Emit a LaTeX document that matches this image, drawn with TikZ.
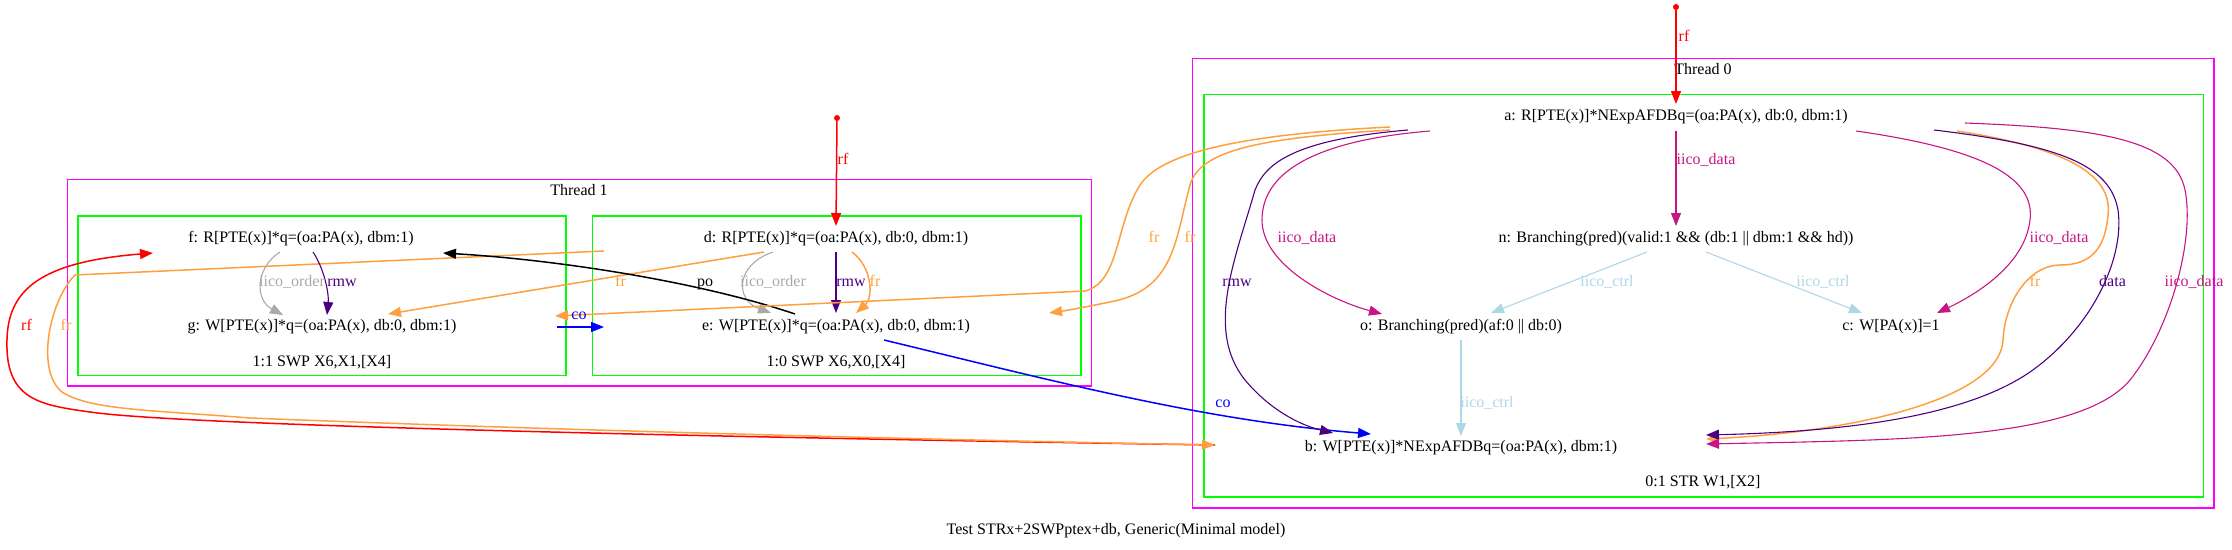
\documentclass[tikz,border=0pt]{standalone}
\usepackage{fontspec}
\setmainfont{Liberation Serif}
\usetikzlibrary{arrows.meta,calc}
\definecolor{cfr}{RGB}{255,160,64}
\definecolor{crmw}{RGB}{75,0,130}
\definecolor{cidata}{RGB}{199,21,133}
\definecolor{cictrl}{RGB}{173,216,230}
\definecolor{corder}{RGB}{169,169,169}
\definecolor{cmag}{RGB}{255,0,255}
\definecolor{cgreen}{RGB}{0,255,0}
\tikzset{
  lbl/.style={font=\fontsize{16}{19}\selectfont, inner sep=0pt, text height=11pt, text depth=4pt},
  ev/.style={lbl, minimum height=27pt, anchor=center},
  clus/.style={draw, line width=1.3pt},
  ea/.style={line width=1.5pt, -{Triangle[length=13pt,width=10pt]}},
  eb/.style={line width=1.1pt, -{Triangle[length=13pt,width=10pt]}},
  initdot/.style={circle, fill=red, inner sep=0pt, minimum size=6pt}
}
\begin{document}
\begin{tikzpicture}[x=1pt,y=-1pt]
\useasboundingbox (0,0) rectangle (2232,549);
% clusters
\draw[clus,cmag] (67.5,179.5) rectangle (1091.5,386);
\draw[clus,cgreen] (78,216) rectangle (566,375.5);
\draw[clus,cgreen] (592.5,216) rectangle (1081,375.5);
\draw[clus,cmag] (1192.5,58.3) rectangle (2214,508);
\draw[clus,cgreen] (1204,94.3) rectangle (2203.5,497);
\node[lbl] (t1) at (579,192) {Thread 1};
\node[lbl] (t0) at (1703,71) {Thread 0};
\node[lbl] (s11) at (322,363) {1:1 SWP X6,X1,[X4]};
\node[lbl] (s10) at (836,363) {1:0 SWP X6,X0,[X4]};
\node[lbl] (s01) at (1703,483) {0:1 STR W1,[X2]};
\node[lbl] (cap) at (1116,531) {Test STRx+2SWPptex+db, Generic(Minimal model)};
% events
\node[ev] (a) at (1676,117) {a: R[PTE(x)]*NExpAFDBq=(oa:PA(x), db:0, dbm:1)};
\node[ev] (n) at (1676,239) {n: Branching(pred)(valid:1 \&\& (db:1 || dbm:1 \&\& hd))};
\node[ev] (o) at (1461,327) {o: Branching(pred)(af:0 || db:0)};
\node[ev] (c) at (1891,327) {c: W[PA(x)]=1};
\node[ev] (b) at (1461,448) {b: W[PTE(x)]*NExpAFDBq=(oa:PA(x), dbm:1)};
\node[ev] (d) at (836,239) {d: R[PTE(x)]*q=(oa:PA(x), db:0, dbm:1)};
\node[ev] (e) at (836,327) {e: W[PTE(x)]*q=(oa:PA(x), db:0, dbm:1)};
\node[ev] (f) at (301,239) {f: R[PTE(x)]*q=(oa:PA(x), dbm:1)};
\node[ev] (g) at (322,327) {g: W[PTE(x)]*q=(oa:PA(x), db:0, dbm:1)};
\node[initdot] (ia) at (1676,7) {};
\node[initdot] (id) at (837,118) {};
% rf
\draw[ea,red] (ia) -- ($(a)+(0,-13)$);
\draw[ea,red] (id) -- ($(d)+(0,-13)$);
\draw[ea,red] ($(b)+(-246,-3)$) .. controls (900,440) and (200,428) .. (90,412) .. controls (40,405) and (5,400) .. (7,340) .. controls (8,290) and (40,262) .. ($(f)+(-148,14)$);
% fr d->b
\draw[ea,cfr] ($(d)+(-232,12)$) -- (75,275) .. controls (50,300) and (35,370) .. (62,392) .. controls (90,410) and (150,410) .. (250,418) .. controls (600,432) and (1000,441) .. ($(b)+(-246,-3)$);
% thread 1 internal
\draw[eb,corder] ($(f)+(-21,13)$) .. controls (255,268) and (255,300) .. ($(g)+(-39,-12)$);
\draw[eb,crmw] ($(f)+(12,13)$) .. controls (325,270) and (329,295) .. ($(g)+(5,-12)$);
\draw[eb,corder] ($(d)+(-63,13)$) .. controls (735,265) and (735,300) .. ($(e)+(-65,-14)$);
\draw[eb,crmw] ($(d)+(0,13)$) -- ($(e)+(0,-14)$);
\draw[ea,cfr] ($(d)+(16,13)$) .. controls (873,268) and (873,298) .. ($(e)+(20,-14)$);
\draw[ea,cfr] ($(d)+(-72,13)$) -- ($(g)+(66,-13)$);
\draw[ea,black] ($(e)+(-41,-13)$) .. controls (700,282) and (560,260) .. ($(f)+(142,14)$);
\draw[ea,blue] ($(g)+(235,0)$) -- ($(e)+(-232,0)$);
\draw[ea,blue] ($(e)+(48,13)$) .. controls (1050,380) and (1200,420) .. ($(b)+(-90,-14)$);
% thread 0
\draw[eb,crmw] ($(a)+(-268,13)$) .. controls (1290,140) and (1265,165) .. (1255,190) .. controls (1235,260) and (1205,330) .. (1245,380) .. controls (1270,410) and (1300,425) .. ($(b)+(-128,-15)$);
\draw[eb,cidata] ($(a)+(-246,14)$) .. controls (1320,140) and (1262,170) .. (1262,220) .. controls (1262,265) and (1330,300) .. ($(o)+(-79,-13)$);
\draw[eb,cidata] ($(a)+(0,14)$) -- ($(n)+(0,-13)$);
\draw[eb,cictrl] ($(n)+(-29,13)$) -- ($(o)+(30,-14)$);
\draw[eb,cictrl] ($(n)+(30,13)$) -- ($(c)+(-29,-14)$);
\draw[eb,cictrl] ($(o)+(0,13)$) -- ($(b)+(0,-12)$);
\draw[eb,cidata] ($(a)+(180,14)$) .. controls (1990,150) and (2035,180) .. (2030,220) .. controls (2025,265) and (1975,295) .. ($(c)+(46,-14)$);
\draw[ea,cfr] ($(a)+(281,14)$) .. controls (2080,150) and (2112,180) .. (2108,215) .. controls (2105,250) and (2090,265) .. (2060,265) .. controls (2030,265) and (2005,300) .. (2003,340) .. controls (2000,400) and (1850,432) .. ($(b)+(245,-9)$);
\draw[eb,crmw] ($(a)+(258,13)$) .. controls (2060,145) and (2110,165) .. (2118,210) .. controls (2125,260) and (2090,330) .. (2030,372) .. controls (1960,420) and (1830,432) .. ($(b)+(245,-13)$);
\draw[eb,cidata] ($(a)+(289,6)$) .. controls (2100,128) and (2175,140) .. (2185,190) .. controls (2195,240) and (2170,330) .. (2130,380) .. controls (2080,440) and (1900,440) .. ($(b)+(245,-4)$);
\draw[ea,cfr] ($(a)+(-286,13)$) .. controls (1260,138) and (1200,150) .. (1190,185) .. controls (1175,240) and (1175,290) .. (1110,302) .. controls (1090,306) and (1070,310) .. ($(e)+(213,-14)$);
\draw[ea,cfr] ($(a)+(-286,10)$) .. controls (1230,135) and (1160,155) .. (1140,185) .. controls (1115,225) and (1120,282) .. (1085,291) -- ($(g)+(233,-11)$);
% labels
\node[lbl,red] (l1) at (1684,38) {rf};
\node[lbl,red] (l2) at (843,161) {rf};
\node[lbl,red] (l3) at (26.5,327) {rf};
\node[lbl,cfr] (l4) at (66,327) {fr};
\node[lbl,corder] (l5) at (292,283) {iico\_order};
\node[lbl,crmw] (l6) at (342,283) {rmw};
\node[lbl,corder] (l7) at (773,283) {iico\_order};
\node[lbl,crmw] (l8) at (851,283) {rmw};
\node[lbl,cfr] (l9) at (875,283) {fr};
\node[lbl,cfr] (l10) at (620.5,283) {fr};
\node[lbl,black] (l11) at (705,283) {po};
\node[lbl,blue] (l12) at (579,316) {co};
\node[lbl,blue] (l13) at (1223,404) {co};
\node[lbl,crmw] (l14) at (1237,283) {rmw};
\node[lbl,cidata] (l15) at (1307,239) {iico\_data};
\node[lbl,cfr] (l16) at (1154,239) {fr};
\node[lbl,cfr] (l17) at (1190,239) {fr};
\node[lbl,cidata] (l18) at (1706,161) {iico\_data};
\node[lbl,cictrl] (l19) at (1607,283) {iico\_ctrl};
\node[lbl,cictrl] (l20) at (1823,283) {iico\_ctrl};
\node[lbl,cictrl] (l21) at (1487,404) {iico\_ctrl};
\node[lbl,cidata] (l22) at (2059,239) {iico\_data};
\node[lbl,cfr] (l23) at (2035,283) {fr};
\node[lbl,crmw] (l24) at (2112.5,283) {data};
\node[lbl,cidata] (l25) at (2194,283) {iico\_data};
\end{tikzpicture}
\end{document}
